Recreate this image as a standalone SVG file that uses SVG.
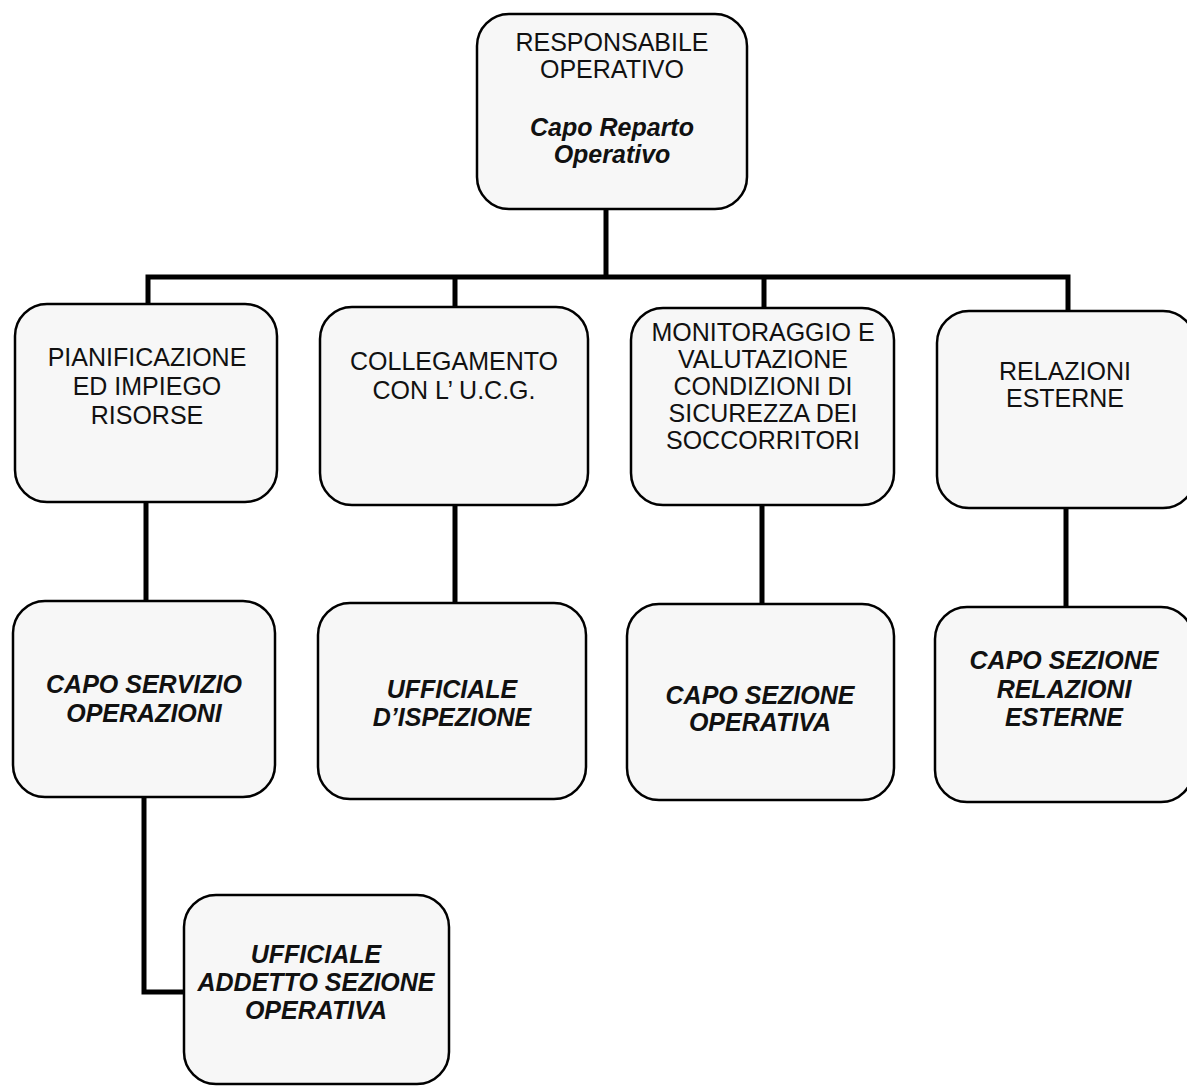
<svg xmlns="http://www.w3.org/2000/svg" width="1187" height="1086" viewBox="0 0 1187 1086">
<style>
.box{fill:#f7f7f7;stroke:#000;stroke-width:2.5}
.t{font-family:"Liberation Sans",Arial,sans-serif;font-size:25px;fill:#111;text-anchor:middle}
.b{font-weight:bold;font-style:italic}
.c{fill:none;stroke:#000;stroke-width:5;stroke-linecap:square;stroke-linejoin:miter}
</style>
<rect width="1187" height="1086" fill="#fff"/>
<g id="connectors">
<path class="c" d="M606 209V277M148 277H1068M148 277V304M455 277V307M764 277V308M1068 277V311"/>
<path class="c" d="M146 502V601M455 505V603M762 505V604M1066 508V607"/>
<path class="c" d="M144 797V992H184"/>
</g>
<g id="n-responsabile">
<rect class="box" x="477" y="14" width="270" height="195" rx="32"/>
<text class="t" x="612" y="51">RESPONSABILE</text>
<text class="t" x="612" y="78">OPERATIVO</text>
<text class="t b" x="612" y="136">Capo Reparto</text>
<text class="t b" x="612" y="163">Operativo</text>
</g>
<g id="n-pianificazione">
<rect class="box" x="15" y="304" width="262" height="198" rx="32"/>
<text class="t" x="147" y="366">PIANIFICAZIONE</text>
<text class="t" x="147" y="395">ED IMPIEGO</text>
<text class="t" x="147" y="424">RISORSE</text>
</g>
<g id="n-collegamento">
<rect class="box" x="320" y="307" width="268" height="198" rx="32"/>
<text class="t" x="454" y="370">COLLEGAMENTO</text>
<text class="t" x="454" y="399">CON L’ U.C.G.</text>
</g>
<g id="n-monitoraggio">
<rect class="box" x="631" y="308" width="263" height="197" rx="32"/>
<text class="t" x="763" y="341">MONITORAGGIO E</text>
<text class="t" x="763" y="368">VALUTAZIONE</text>
<text class="t" x="763" y="395">CONDIZIONI DI</text>
<text class="t" x="763" y="422">SICUREZZA DEI</text>
<text class="t" x="763" y="449">SOCCORRITORI</text>
</g>
<g id="n-relazioni">
<rect class="box" x="937" y="311" width="258" height="197" rx="32"/>
<text class="t" x="1065" y="380">RELAZIONI</text>
<text class="t" x="1065" y="407">ESTERNE</text>
</g>
<g id="n-capo-servizio">
<rect class="box" x="13" y="601" width="262" height="196" rx="32"/>
<text class="t b" x="144" y="693">CAPO SERVIZIO</text>
<text class="t b" x="144" y="722">OPERAZIONI</text>
</g>
<g id="n-ufficiale-ispezione">
<rect class="box" x="318" y="603" width="268" height="196" rx="32"/>
<text class="t b" x="452" y="698">UFFICIALE</text>
<text class="t b" x="452" y="726">D’ISPEZIONE</text>
</g>
<g id="n-capo-sezione-op">
<rect class="box" x="627" y="604" width="267" height="196" rx="32"/>
<text class="t b" x="760" y="704">CAPO SEZIONE</text>
<text class="t b" x="760" y="731">OPERATIVA</text>
</g>
<g id="n-capo-sezione-rel">
<rect class="box" x="935" y="607" width="258" height="195" rx="32"/>
<text class="t b" x="1064" y="669">CAPO SEZIONE</text>
<text class="t b" x="1064" y="698">RELAZIONI</text>
<text class="t b" x="1064" y="726">ESTERNE</text>
</g>
<g id="n-ufficiale-addetto">
<rect class="box" x="184" y="895" width="265" height="189" rx="32"/>
<text class="t b" x="316" y="963">UFFICIALE</text>
<text class="t b" x="316" y="991">ADDETTO SEZIONE</text>
<text class="t b" x="316" y="1019">OPERATIVA</text>
</g>
</svg>
